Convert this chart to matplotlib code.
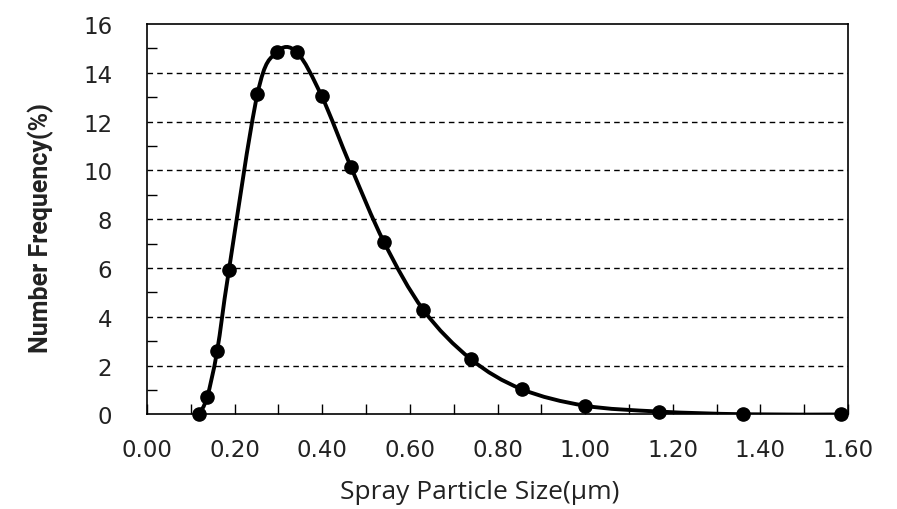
import numpy as np
import matplotlib
matplotlib.use("Agg")
import matplotlib.pyplot as plt
from matplotlib.path import Path
from matplotlib.patches import PathPatch
from matplotlib.ticker import MultipleLocator

# particle size (um) and number frequency (%)
size_um = [0.119, 0.137, 0.160, 0.187, 0.252, 0.296, 0.342, 0.399, 0.465,
           0.541, 0.631, 0.739, 0.855, 1.000, 1.169, 1.361, 1.583]
freq_pct = [0.02, 0.70, 2.60, 5.92, 13.13, 14.84, 14.84, 13.03, 10.16,
            7.06, 4.28, 2.27, 1.04, 0.36, 0.12, 0.01, 0.0]
x_ticks = [0.0, 0.2, 0.4, 0.6, 0.8, 1.0, 1.2, 1.4, 1.6]
y_ticks = [0, 2, 4, 6, 8, 10, 12, 14, 16]

plt.rcParams['font.family'] = ['Open Sans', 'DejaVu Sans']

fig = plt.figure(figsize=(8.97, 5.10), dpi=100)
ax = fig.add_axes([0.1639, 0.1853, 0.7815, 0.7657])


def smooth_path(xs, ys, tension=1/6):
    # Excel-like smoothed line: cubic Bezier segments through every point
    pts = np.column_stack([xs, ys])
    verts = [pts[0]]
    codes = [Path.MOVETO]
    n = len(pts)
    for i in range(n - 1):
        p0 = pts[i - 1] if i > 0 else pts[i]
        p1 = pts[i]
        p2 = pts[i + 1]
        p3 = pts[i + 2] if i + 2 < n else pts[i + 1]
        c1 = p1 + (p2 - p0) * tension
        c2 = p2 - (p3 - p1) * tension
        verts += [c1, c2, p2]
        codes += [Path.CURVE4] * 3
    return Path(verts, codes)


ax.add_patch(PathPatch(smooth_path(size_um, freq_pct), facecolor='none',
                       edgecolor='black', lw=2.8, zorder=3))
ax.plot(size_um, freq_pct, 'o', color='black', markersize=9.5, zorder=4,
        clip_on=False)

ax.set_xlim(0, 1.6)
ax.set_ylim(0, 16)
ax.set_xticks(x_ticks)
ax.set_xticklabels([f"{v:.2f}" for v in x_ticks])
ax.set_yticks(y_ticks)
ax.xaxis.set_minor_locator(MultipleLocator(0.1))
ax.yaxis.set_minor_locator(MultipleLocator(1))
ax.tick_params(which='both', direction='in', length=7, width=1)
ax.tick_params(axis='x', which='both', pad=17, labelsize=16.5)
ax.tick_params(axis='y', which='both', pad=25, labelsize=16.5)
ax.tick_params(axis='y', which='major', length=0)
for lab in ax.get_xticklabels() + ax.get_yticklabels():
    lab.set_color('#222222')
    lab.set_family('DejaVu Sans')

for v in y_ticks[1:-1]:
    ax.axhline(v, color='black', lw=1, ls=(0, (4, 3)), zorder=1)

for s in ax.spines.values():
    s.set_linewidth(1.2)

ax.set_xlabel('Spray Particle Size(μm)', fontsize=19, va='center',
              color='#222222')
ax.set_ylabel('Number Frequency(%)', fontsize=18, fontweight='bold',
              family=['Roboto', 'DejaVu Sans'], va='center', color='#222222')
ax.xaxis.set_label_coords(0.474, -0.196)
ax.yaxis.set_label_coords(-0.151, 0.48)

fig.savefig('out.png', dpi=100)
